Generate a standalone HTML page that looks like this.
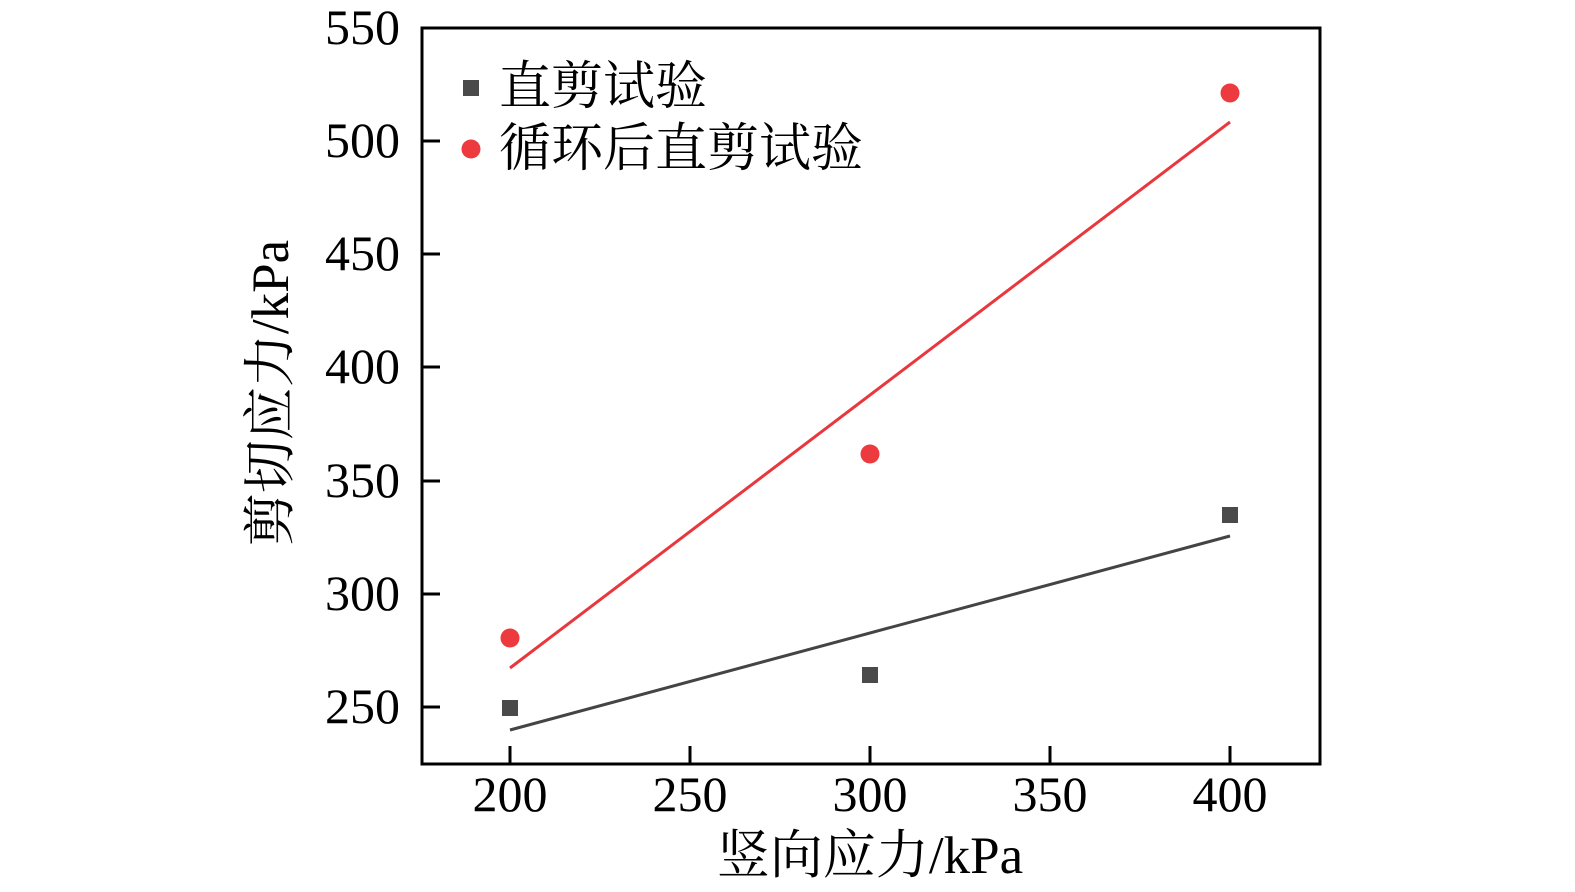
<!DOCTYPE html>
<html><head><meta charset="utf-8"><style>body{margin:0;background:#fff}</style></head><body>
<svg width="1575" height="892" xmlns="http://www.w3.org/2000/svg" style="display:block">
<g font-family="Liberation Serif, Noto Serif CJK SC, serif" font-size="50" fill="#000">
<rect x="422" y="28" width="898" height="736" fill="none" stroke="#000" stroke-width="3"/>
<g stroke="#000" stroke-width="3">
<line x1="422" y1="707" x2="440" y2="707"/><line x1="422" y1="594" x2="440" y2="594"/><line x1="422" y1="481" x2="440" y2="481"/><line x1="422" y1="367" x2="440" y2="367"/><line x1="422" y1="254" x2="440" y2="254"/><line x1="422" y1="141" x2="440" y2="141"/>
<line x1="510" y1="764" x2="510" y2="746"/><line x1="690" y1="764" x2="690" y2="746"/><line x1="870" y1="764" x2="870" y2="746"/><line x1="1050" y1="764" x2="1050" y2="746"/><line x1="1230" y1="764" x2="1230" y2="746"/>
</g>
<g text-anchor="end">
<text x="400" y="44">550</text><text x="400" y="157">500</text><text x="400" y="270">450</text><text x="400" y="383">400</text><text x="400" y="497">350</text><text x="400" y="610">300</text><text x="400" y="723">250</text>
</g>
<g text-anchor="middle">
<text x="510" y="811">200</text><text x="690" y="811">250</text><text x="870" y="811">300</text><text x="1050" y="811">350</text><text x="1230" y="811">400</text>
<text x="870" y="873" font-size="53">竖向应力/kPa</text>
<text transform="translate(288,393) rotate(-90)" font-size="53">剪切应力/kPa</text>
</g>
<line x1="510" y1="730" x2="1230" y2="536" stroke="#444" stroke-width="3"/>
<line x1="510" y1="668" x2="1230" y2="122" stroke="#e8373d" stroke-width="3"/>
<g fill="#4a4a4a">
<rect x="502" y="700" width="16" height="16"/><rect x="862" y="667" width="16" height="16"/><rect x="1222" y="507" width="16" height="16"/>
<rect x="463" y="80" width="16" height="16"/>
</g>
<g fill="#ec3a3f">
<circle cx="510" cy="638" r="9.5"/><circle cx="870" cy="454" r="9.5"/><circle cx="1230" cy="93" r="9.5"/><circle cx="471" cy="149" r="9.5"/>
</g>
<text x="499" y="104" font-size="52">直剪试验</text>
<text x="499" y="166" font-size="52">循环后直剪试验</text>
</g>
</svg>
</body></html>
